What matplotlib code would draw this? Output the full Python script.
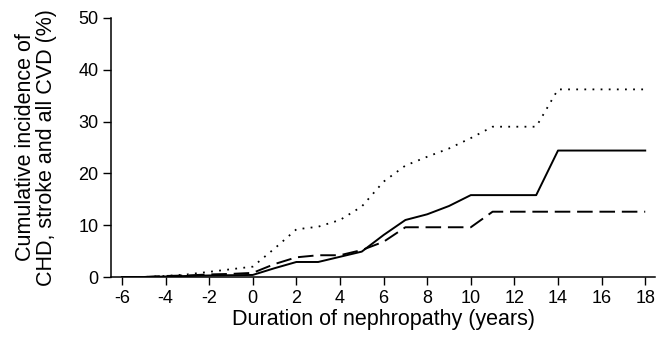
import matplotlib
matplotlib.use("Agg")
import matplotlib.pyplot as plt

plt.rcParams["font.family"] = ["Liberation Sans", "DejaVu Sans"]

# Duration of nephropathy (years) and cumulative incidence (%)
years = [-6, -5, -4, -3, -2, -1, 0, 1, 2, 3, 4, 5, 6, 7, 8, 9, 10, 11, 12, 13, 14, 15, 16, 17, 18]
chd = [0, 0, 0.1, 0.2, 0.3, 0.35, 0.4, 1.7, 2.9, 2.9, 3.9, 4.9, 8.1, 11.0, 12.1, 13.7, 15.8,
       15.8, 15.8, 15.8, 24.4, 24.4, 24.4, 24.4, 24.4]
stroke = [0, 0, 0.2, 0.3, 0.5, 0.6, 0.8, 2.5, 3.8, 4.2, 4.2, 5.2, 6.8, 9.6, 9.6, 9.6, 9.6,
          12.6, 12.6, 12.6, 12.6, 12.6, 12.6, 12.6, 12.6]
all_cvd = [0, 0, 0.2, 0.5, 1.0, 1.5, 2.0, 5.5, 9.2, 9.7, 11.0, 13.6, 18.4, 21.5, 23.2, 24.8, 26.8,
           29.0, 29.0, 29.0, 36.2, 36.2, 36.2, 36.2, 36.2]

xticks = list(range(-6, 19, 2))
xticklabels = [str(v) for v in xticks]  # plain hyphen, not unicode minus
yticks = [0, 10, 20, 30, 40, 50]

fig = plt.figure(figsize=(6.57, 3.37), dpi=100)
ax = fig.add_axes([0.169, 0.178, 0.828, 0.769])

ax.plot(years, chd, color="black", lw=1.4, linestyle="-")
ax.plot(years, stroke, color="black", lw=1.4, linestyle=(0, (8, 3.5)))
ax.plot(years, all_cvd, color="black", lw=1.3, linestyle=(0, (1, 3.5)))

ax.set_xlim(-6.5, 18.45)
ax.set_ylim(0, 50)
ax.set_xticks(xticks)
ax.set_xticklabels(xticklabels)
ax.set_yticks(yticks)
ax.tick_params(direction="out", length=6, width=1, labelsize=13, pad=3)
for s in ["top", "right"]:
    ax.spines[s].set_visible(False)
for s in ["left", "bottom"]:
    ax.spines[s].set_linewidth(1.1)

ax.set_xlabel("Duration of nephropathy (years)", fontsize=15.5, labelpad=2)
ax.set_ylabel("Cumulative incidence of\nCHD, stroke and all CVD (%)", fontsize=15.5,
              linespacing=1.0)
ax.yaxis.set_label_coords(-0.1, 0.5)

fig.savefig("out.png", dpi=100)
